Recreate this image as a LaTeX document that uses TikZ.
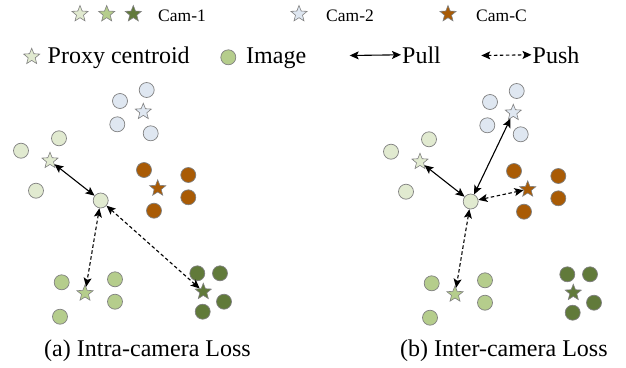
\documentclass[tikz,border=0pt]{standalone}
\usepackage{fontspec}
\setmainfont{Liberation Serif}
\usetikzlibrary{shapes.geometric,arrows.meta}

\definecolor{camPale}{HTML}{E1EAD0}
\definecolor{camMid}{HTML}{B5CD8C}
\definecolor{camDark}{HTML}{617A3A}
\definecolor{camBlue}{HTML}{DFE7F1}
\definecolor{camBrown}{HTML}{A95B05}
\definecolor{rim}{HTML}{808080}

\begin{document}
\begin{tikzpicture}[
    x=1pt, y=-1pt,
    img/.style={circle, draw=rim, line width=0.7pt, minimum size=15pt, inner sep=0pt},
    proxy/.style={star, star points=5, star point ratio=2.3, draw=rim, line width=0.6pt,
        minimum size=17pt, inner sep=0pt},
    pull/.style={{Stealth[length=9pt,width=8pt,inset=2pt]}-{Stealth[length=9pt,width=8pt,inset=2pt]},
        line width=1.1pt},
    push/.style={pull, dash pattern=on 3.5pt off 2.5pt},
    big/.style={font=\fontsize{24}{28}\selectfont, inner sep=1pt},
    small/.style={font=\fontsize{17.5}{20}\selectfont, inner sep=1pt},
]
    \useasboundingbox (0, 0) rectangle (626, 367);

    % legend, top row
    \node[proxy, fill=camPale] (key-pale) at (80, 14) {};
    \node[proxy, fill=camMid] (key-mid) at (106.7, 14) {};
    \node[proxy, fill=camDark] (key-dark) at (133.3, 14) {};
    \node[small, anchor=base west] (key-cam1) at (157, 21.7) {Cam-1};
    \node[proxy, fill=camBlue] (key-blue) at (299, 14) {};
    \node[small, anchor=base west] (key-cam2) at (325, 21.7) {Cam-2};
    \node[proxy, fill=camBrown] (key-brown) at (448, 14) {};
    \node[small, anchor=base west] (key-camc) at (475, 21.7) {Cam-C};

    % legend, second row
    \node[proxy, fill=camPale] (key-proxy) at (31.7, 56.7) {};
    \node[big, anchor=base west] (key-proxy-txt) at (46.5, 63) {Proxy centroid};
    \node[img, fill=camMid] (key-img) at (228.3, 57.3) {};
    \node[big, anchor=base west] (key-img-txt) at (245, 63) {Image};
    \coordinate (pull-l) at (349.7, 55.5);
    \node[big, anchor=base west] (key-pull-txt) at (401, 63) {Pull};
    \draw[pull] (pull-l) -- (key-pull-txt.west);
    \coordinate (push-l) at (481.3, 55.5);
    \node[big, anchor=base west] (key-push-txt) at (531.5, 63) {Push};
    \draw[push] (push-l) -- (key-push-txt.west);

    % the two panels
    \foreach \p/\dx/\dy in {a/0/0, b/370/-1} {
        \begin{scope}[xshift=\dx, yshift=\dy]
            \node[img, fill=camBlue] (\p-b1) at (146.7, 90) {};
            \node[img, fill=camBlue] (\p-b2) at (120, 101) {};
            \node[img, fill=camBlue] (\p-b3) at (117.3, 124.3) {};
            \node[img, fill=camBlue] (\p-b4) at (150.7, 133.3) {};
            \node[proxy, fill=camBlue] (\p-bs) at (143.3, 111.7) {};

            \node[img, fill=camPale] (\p-p1) at (59, 138.3) {};
            \node[img, fill=camPale] (\p-p2) at (21, 150.7) {};
            \node[img, fill=camPale] (\p-p3) at (36, 190.7) {};
            \node[proxy, fill=camPale] (\p-ps) at (50, 160.7) {};

            \node[img, fill=camPale] (\p-c) at (100.7, 200.5) {};

            \node[img, fill=camBrown] (\p-r1) at (144, 170) {};
            \node[img, fill=camBrown] (\p-r2) at (188.3, 175) {};
            \node[img, fill=camBrown] (\p-r3) at (188.3, 197.3) {};
            \node[img, fill=camBrown] (\p-r4) at (154, 210.7) {};
            \node[proxy, fill=camBrown] (\p-rs) at (157.7, 188.3) {};

            \node[img, fill=camMid] (\p-g1) at (61.7, 282.3) {};
            \node[img, fill=camMid] (\p-g2) at (115, 279.3) {};
            \node[img, fill=camMid] (\p-g3) at (115, 301.7) {};
            \node[img, fill=camMid] (\p-g4) at (60, 316.7) {};
            \node[proxy, fill=camMid] (\p-gs) at (85, 293.3) {};

            \node[img, fill=camDark] (\p-d1) at (197.3, 273.3) {};
            \node[img, fill=camDark] (\p-d2) at (220, 273.3) {};
            \node[img, fill=camDark] (\p-d3) at (224, 301.7) {};
            \node[img, fill=camDark] (\p-d4) at (202.7, 311.7) {};
            \node[proxy, fill=camDark] (\p-ds) at (203.3, 291.7) {};
        \end{scope}
    }

    % (a) intra-camera
    \draw[pull] (a-c) -- (a-ps);
    \draw[push] (a-c) -- (a-gs);
    \draw[push] (a-c) -- (a-ds);
    \node[big, anchor=base west] (cap-a) at (43, 356.5) {(a) Intra-camera Loss};

    % (b) inter-camera
    \draw[pull] (b-c) -- (b-ps);
    \draw[pull] (b-c) -- (b-bs);
    \draw[push] (b-c) -- (b-rs);
    \draw[push] (b-c) -- (b-gs);
    \node[big, anchor=base west] (cap-b) at (399, 356.5) {(b) Inter-camera Loss};
\end{tikzpicture}
\end{document}
